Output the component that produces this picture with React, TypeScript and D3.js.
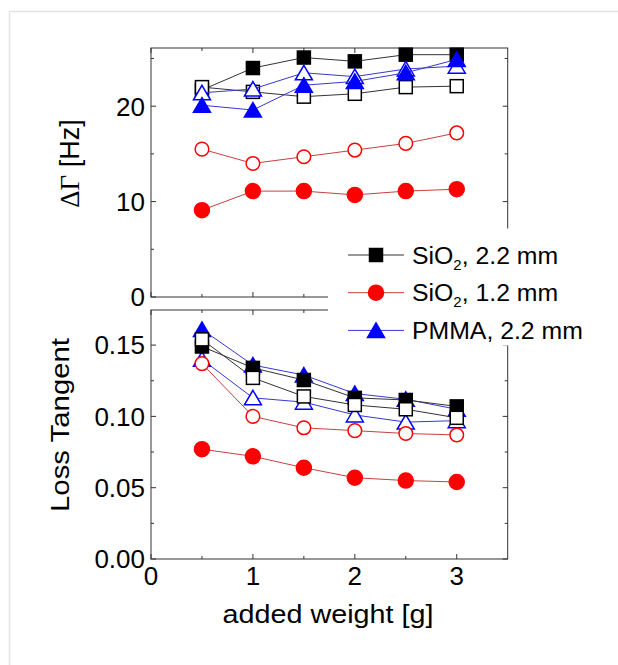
import React from 'react';
import * as d3 from 'd3';

// added weight in grams
const weights = [0.5, 1, 1.5, 2, 2.5, 3];

// top panel: delta Gamma [Hz]
const gammaSiO2ThickFilled = [21.7, 24.0, 25.1, 24.7, 25.4, 25.4];
const gammaSiO2ThickOpen = [22.0, 21.5, 21.0, 21.3, 22.0, 22.1];
const gammaSiO2ThinFilled = [9.1, 11.1, 11.1, 10.7, 11.1, 11.3];
const gammaSiO2ThinOpen = [15.5, 14.0, 14.7, 15.4, 16.1, 17.2];
const gammaPmmaFilled = [20.1, 19.6, 22.2, 22.6, 23.5, 24.9];
const gammaPmmaOpen = [21.4, 21.8, 23.5, 23.1, 23.9, 24.2];

// bottom panel: loss tangent
const ltSiO2ThickFilled = [0.149, 0.134, 0.1255, 0.113, 0.1115, 0.107];
const ltSiO2ThickOpen = [0.154, 0.127, 0.114, 0.108, 0.105, 0.099];
const ltSiO2ThinFilled = [0.077, 0.072, 0.064, 0.057, 0.055, 0.054];
const ltSiO2ThinOpen = [0.137, 0.1, 0.092, 0.09, 0.088, 0.087];
const ltPmmaFilled = [0.161, 0.136, 0.129, 0.116, 0.112, 0.105];
const ltPmmaOpen = [0.14, 0.113, 0.11, 0.101, 0.096, 0.097];

const xMajor = [0, 1, 2, 3];
const xMinor = [0.5, 1.5, 2.5];
const topMajor = [0, 10, 20];
const topMinor = [5, 15, 25];
const botMajor = [0, 0.05, 0.1, 0.15];
const botMinor = [0.025, 0.075, 0.125];

const legendItems = [
  { name: 'SiO', sub: '2', rest: ', 2.2 mm', kind: 'square' },
  { name: 'SiO', sub: '2', rest: ', 1.2 mm', kind: 'circle' },
  { name: 'PMMA, 2.2 mm', sub: '', rest: '', kind: 'triangle' },
];

const COL = { square: '#000', circle: '#ff0000', triangle: '#0000ff' };
const LINE = { square: '#333', circle: '#c84040', triangle: '#3838d0' };
const FONT = "'Liberation Sans', Arial, sans-serif";

function Marker({ kind, x, y, filled }) {
  const c = COL[kind];
  const fill = filled ? c : '#fff';
  if (kind === 'square') {
    return <rect x={x - 6.5} y={y - 6.5} width={13} height={13} fill={fill} stroke={c} strokeWidth={1.5} />;
  }
  if (kind === 'circle') {
    return <circle cx={x} cy={y} r={filled ? 7.5 : 6.8} fill={fill} stroke={c} strokeWidth={1.5} />;
  }
  const p = `M${x},${y - 7.5}L${x + 8.5},${y + 7}L${x - 8.5},${y + 7}Z`;
  return <path d={p} fill={fill} stroke={c} strokeWidth={1.5} strokeLinejoin="miter" />;
}

function Series({ values, kind, filled, x, y }) {
  const line = d3.line<number>()
    .x((_, i) => x(weights[i]))
    .y((d) => y(d));
  return (
    <g>
      <path d={line(values) || ''} fill="none" stroke={LINE[kind]} strokeWidth={1} />
      {values.map((v, i) => (
        <Marker key={i} kind={kind} x={x(weights[i])} y={y(v)} filled={filled} />
      ))}
    </g>
  );
}

function Frame({ x, y, major, minor }) {
  const [x0, x1] = x.range();
  const [y0, y1] = y.range(); // y0 bottom, y1 top
  const ax = '#333';
  return (
    <g stroke={ax} strokeWidth={1}>
      <rect x={x0} y={y1} width={x1 - x0} height={y0 - y1} fill="none" />
      {xMajor.map((t) => (
        <g key={'xM' + t}>
          <line x1={x(t)} x2={x(t)} y1={y0} y2={y0 - 5} />
          <line x1={x(t)} x2={x(t)} y1={y1} y2={y1 + 5} />
        </g>
      ))}
      {xMinor.map((t) => (
        <g key={'xm' + t}>
          <line x1={x(t)} x2={x(t)} y1={y0} y2={y0 - 3} />
          <line x1={x(t)} x2={x(t)} y1={y1} y2={y1 + 3} />
        </g>
      ))}
      {major.map((t) => (
        <g key={'yM' + t}>
          <line x1={x0} x2={x0 + 5} y1={y(t)} y2={y(t)} />
          <line x1={x1} x2={x1 - 5} y1={y(t)} y2={y(t)} />
        </g>
      ))}
      {minor.map((t) => (
        <g key={'ym' + t}>
          <line x1={x0} x2={x0 + 3} y1={y(t)} y2={y(t)} />
          <line x1={x1} x2={x1 - 3} y1={y(t)} y2={y(t)} />
        </g>
      ))}
    </g>
  );
}

export default function App() {
  const x = d3.scaleLinear().domain([0, 3.5]).range([151, 507.7]);
  const yTop = d3.scaleLinear().domain([0, 26.1]).range([297, 48]);
  const yBot = d3.scaleLinear().domain([0, 0.1746]).range([559, 310]);
  const fmtBot = d3.format('.2f');

  return (
    <svg width={618} height={665} style={{ position: 'absolute', left: 0, top: 0 }} fontFamily={FONT}>
      <rect x={0} y={0} width={618} height={665} fill="#fff" />
      <rect x={9.5} y={11.5} width={700} height={700} fill="none" stroke="#e4e4e4" strokeWidth={1.5} />

      {/* top panel */}
      <Frame x={x} y={yTop} major={topMajor} minor={topMinor} />
      <Series values={gammaSiO2ThickFilled} kind="square" filled x={x} y={yTop} />
      <Series values={gammaSiO2ThickOpen} kind="square" filled={false} x={x} y={yTop} />
      <Series values={gammaPmmaOpen} kind="triangle" filled={false} x={x} y={yTop} />
      <Series values={gammaPmmaFilled} kind="triangle" filled x={x} y={yTop} />
      <Series values={gammaSiO2ThinOpen} kind="circle" filled={false} x={x} y={yTop} />
      <Series values={gammaSiO2ThinFilled} kind="circle" filled x={x} y={yTop} />
      {topMajor.map((t) => (
        <text key={t} x={145} y={yTop(t)} dy="0.36em" textAnchor="end" fontSize={26}>{t}</text>
      ))}
      <text transform={`translate(79,${163.5}) rotate(-90)`} textAnchor="middle" fontSize={27}>
        <tspan fontFamily="'Liberation Serif', 'Times New Roman', serif">ΔΓ</tspan> [Hz]
      </text>

      {/* bottom panel */}
      <Frame x={x} y={yBot} major={botMajor} minor={botMinor} />
      <Series values={ltPmmaFilled} kind="triangle" filled x={x} y={yBot} />
      <Series values={ltPmmaOpen} kind="triangle" filled={false} x={x} y={yBot} />
      <Series values={ltSiO2ThickFilled} kind="square" filled x={x} y={yBot} />
      <Series values={ltSiO2ThickOpen} kind="square" filled={false} x={x} y={yBot} />
      <Series values={ltSiO2ThinOpen} kind="circle" filled={false} x={x} y={yBot} />
      <Series values={ltSiO2ThinFilled} kind="circle" filled x={x} y={yBot} />
      {botMajor.map((t) => (
        <text key={t} x={145} y={yBot(t)} dy="0.36em" textAnchor="end" fontSize={26}>{fmtBot(t)}</text>
      ))}
      <text transform={`translate(69,${425}) rotate(-90)`} textAnchor="middle" fontSize={25}
        textLength={174} lengthAdjust="spacingAndGlyphs">Loss Tangent</text>

      {xMajor.map((t) => (
        <text key={t} x={x(t)} y={585} textAnchor="middle" fontSize={26}>{t}</text>
      ))}
      <text x={328} y={623} textAnchor="middle" fontSize={26} textLength={211} lengthAdjust="spacingAndGlyphs">
        added weight [g]
      </text>

      {/* legend */}
      <rect x={328} y={228.5} width={280} height={117} fill="#fff" />
      {legendItems.map((d, i) => {
        const cy = 255 + i * 37.7;
        return (
          <g key={i}>
            <line x1={348} x2={404} y1={cy} y2={cy} stroke={LINE[d.kind]} strokeWidth={1} />
            <Marker kind={d.kind} x={376} y={cy} filled />
            <text x={412} y={cy + 8.5} fontSize={24.8}>
              {d.name}
              {d.sub && <tspan fontSize={15} dy={6}>{d.sub}</tspan>}
              {d.sub && <tspan dy={-6}>{d.rest}</tspan>}
            </text>
          </g>
        );
      })}
    </svg>
  );
}
